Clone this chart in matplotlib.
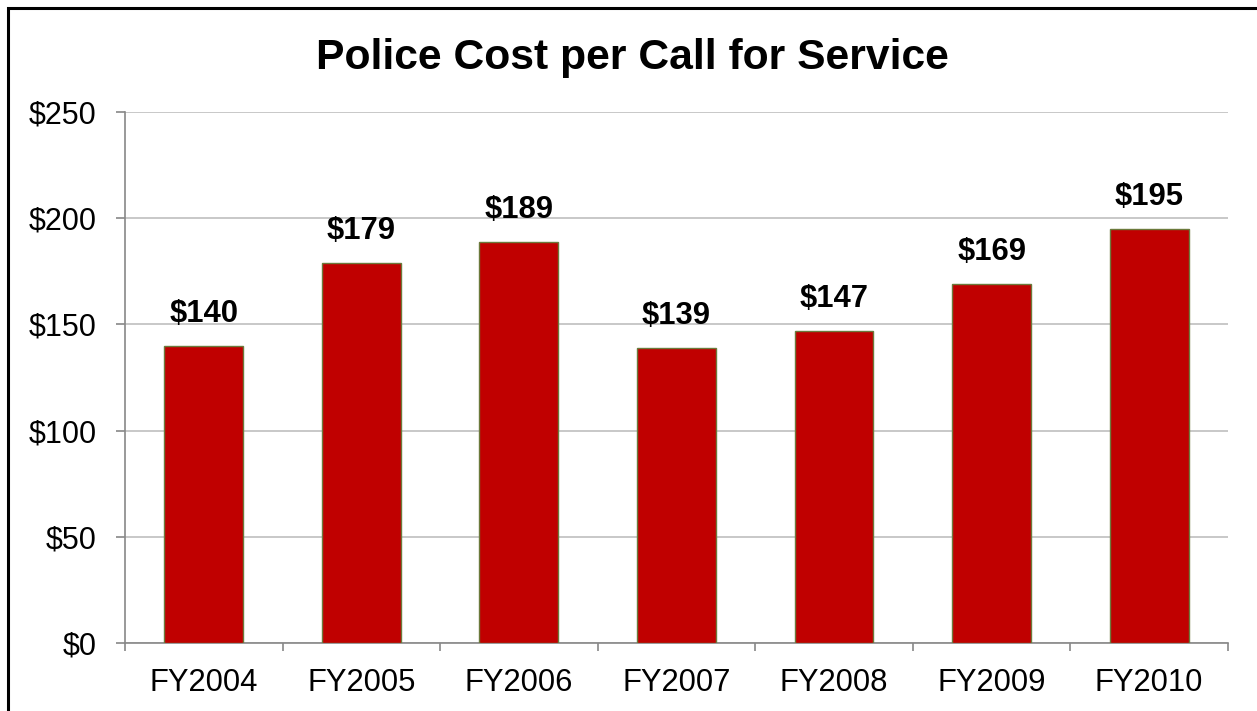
import matplotlib.pyplot as plt
from matplotlib.patches import Rectangle
from matplotlib.ticker import FixedLocator

# cost per call for service, by fiscal year
years = ["FY2004", "FY2005", "FY2006", "FY2007", "FY2008", "FY2009", "FY2010"]
cost = [140, 179, 189, 139, 147, 169, 195]
y_ticks = [0, 50, 100, 150, 200, 250]

plt.rcParams['font.family'] = ['Liberation Sans', 'DejaVu Sans']

fig = plt.figure(figsize=(12.57, 7.11), dpi=100)
ax = fig.add_axes([0.0994, 0.0956, 0.8775, 0.7469])

x = range(len(years))
ax.bar(x, cost, width=0.5, color="#C00000", edgecolor="#6B7A3C", linewidth=1.0, zorder=3)

for xi, v in zip(x, cost):
    ax.annotate(f"${v}", (xi, v), xytext=(0, 12), textcoords="offset points",
                ha="center", va="bottom", fontsize=22.3, fontweight="bold", color="black")

ax.set_xlim(-0.5, len(years) - 0.5)
ax.set_ylim(0, 250)
ax.set_yticks(y_ticks)
ax.set_yticklabels([f"${t}" for t in y_ticks], fontsize=22)
ax.set_xticks(list(x))
ax.set_xticklabels(years, fontsize=22.3)

# ticks sit on the category boundaries, labels in the middle
ax.xaxis.set_minor_locator(FixedLocator([i - 0.5 for i in range(len(years) + 1)]))
ax.tick_params(axis="x", which="major", length=0, pad=18)
ax.tick_params(axis="x", which="minor", length=6, width=1.2, color="#888888", direction="out")
ax.tick_params(axis="y", length=6.5, width=1.2, color="#888888", direction="out", pad=14)

ax.yaxis.grid(True, color="#BFBFBF", linewidth=1.2, zorder=0)
ax.set_axisbelow(True)
for side in ["top", "right"]:
    ax.spines[side].set_visible(False)
for side in ["left", "bottom"]:
    ax.spines[side].set_color("#888888")
    ax.spines[side].set_linewidth(1.2)

fig.text(0.5035, 0.918, "Police Cost per Call for Service", ha="center", va="center",
         fontsize=30.7, fontweight="bold")

# outer frame of the chart area
fig.patches.append(Rectangle((8 / 1257, -0.5), 2.0, 1.5 - 8 / 711, transform=fig.transFigure,
                             fill=False, edgecolor="black", linewidth=2.2))

fig.savefig("out.png", dpi=100)
